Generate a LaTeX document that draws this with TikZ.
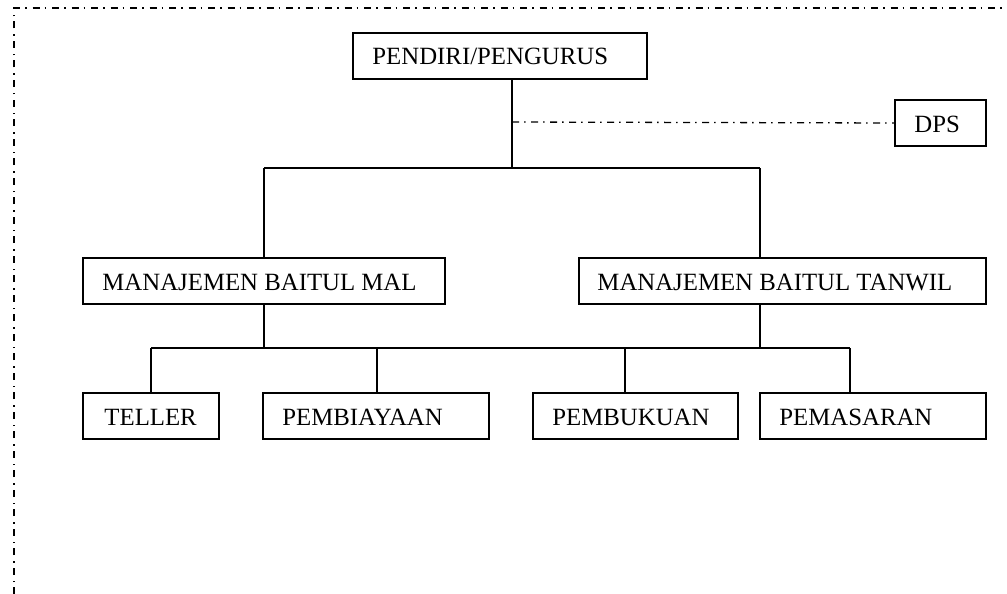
\documentclass[tikz,border=0pt]{standalone}
\usepackage{fontspec}
\setmainfont{Liberation Serif}
\begin{document}
\begin{tikzpicture}[x=1pt,y=-1pt,
  orgbox/.style={draw, line width=1.5pt, minimum height=46pt, inner sep=0pt},
  lbl/.style={anchor=base west, inner sep=0pt, font=\fontsize{24.8}{29}\selectfont},
  conn/.style={line width=1.5pt},
  dashdot/.style={line width=1.3pt, dash pattern=on 7pt off 5pt on 1.5pt off 5.5pt},
  borderline/.style={line width=1.6pt, dash pattern=on 7pt off 5pt on 1.5pt off 6pt}]
\useasboundingbox (0,0) rectangle (1007,594);
% border
\coordinate (bl) at (14,594);
\coordinate (tl) at (14,8);
\coordinate (tr) at (1007,8);
\draw[borderline] (bl) -- (tl) -- (tr);
% boxes
\node[orgbox, minimum width=294pt] (pend) at (500,56) {};
\node[orgbox, minimum width=91pt] (dps) at (940.5,123) {};
\node[orgbox, minimum width=362pt] (mal) at (264,281) {};
\node[orgbox, minimum width=407pt] (tan) at (782.5,281) {};
\node[orgbox, minimum width=136pt] (tel) at (151,416) {};
\node[orgbox, minimum width=226pt] (pby) at (376,416) {};
\node[orgbox, minimum width=205pt] (pbk) at (635.5,416) {};
\node[orgbox, minimum width=226pt] (pms) at (873,416) {};
% labels
\node[lbl] (pend-t) at ([xshift=20pt,yshift=-9pt]pend.west) {PENDIRI/PENGURUS};
\node[lbl] (dps-t) at ([xshift=20pt,yshift=-9pt]dps.west) {DPS};
\node[lbl] (mal-t) at ([xshift=20pt,yshift=-9pt]mal.west) {MANAJEMEN BAITUL MAL};
\node[lbl] (tan-t) at ([xshift=19pt,yshift=-9pt]tan.west) {MANAJEMEN BAITUL TANWIL};
\node[lbl] (tel-t) at ([xshift=22pt,yshift=-9pt]tel.west) {TELLER};
\node[lbl] (pby-t) at ([xshift=20pt,yshift=-9pt]pby.west) {PEMBIAYAAN};
\node[lbl] (pbk-t) at ([xshift=20pt,yshift=-9pt]pbk.west) {PEMBUKUAN};
\node[lbl] (pms-t) at ([xshift=20pt,yshift=-9pt]pms.west) {PEMASARAN};
% junctions
\coordinate (j1) at (512,168);
\coordinate (j1l) at (264,168);
\coordinate (j1r) at (760,168);
\coordinate (jd) at (512,122);
\coordinate (j2l) at (151,348);
\coordinate (j2r) at (850,348);
\coordinate (j2a) at (264,348);
\coordinate (j2b) at (760,348);
\coordinate (j2c) at (377,348);
\coordinate (j2d) at (625,348);
% connectors
\draw[conn] (pend.south -| j1) -- (j1);
\draw[conn] (j1l) -- (j1r);
\draw[conn] (j1l) -- (mal.north -| j1l);
\draw[conn] (j1r) -- (tan.north -| j1r);
\draw[dashdot] (jd) -- (dps.west);
\draw[conn] (mal.south -| j2a) -- (j2a);
\draw[conn] (tan.south -| j2b) -- (j2b);
\draw[conn] (j2l) -- (j2r);
\draw[conn] (j2l) -- (tel.north -| j2l);
\draw[conn] (j2c) -- (pby.north -| j2c);
\draw[conn] (j2d) -- (pbk.north -| j2d);
\draw[conn] (j2r) -- (pms.north -| j2r);
\end{tikzpicture}
\end{document}
